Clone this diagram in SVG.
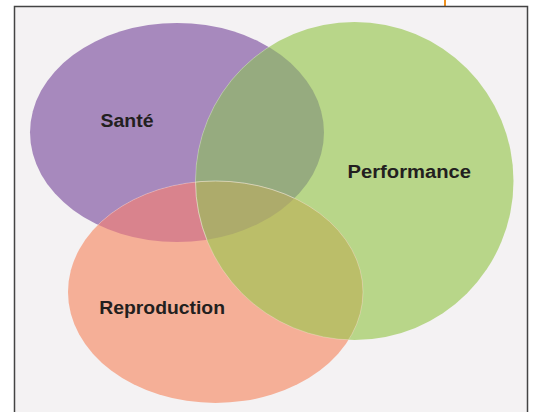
<svg xmlns="http://www.w3.org/2000/svg" width="534" height="412" viewBox="0 0 534 412">
  <style>
    .lbl { font-family: "Liberation Sans", Arial, sans-serif; font-size: 17.5px; font-weight: bold; fill: #231f20; }
    .edge { stroke: #ffffff; stroke-opacity: 0.35; stroke-width: 0.8; }
  </style>
  <defs>
    <clipPath id="cPurple"><ellipse cx="177" cy="132.5" rx="147" ry="109.5"/></clipPath>
    <clipPath id="cGreen"><circle cx="354.5" cy="181" r="159"/></clipPath>
    <clipPath id="cSalmon"><ellipse cx="215.5" cy="292" rx="147.5" ry="111"/></clipPath>
  </defs>
  <rect x="0" y="0" width="534" height="412" fill="#ffffff"/>
  <line x1="445" y1="0" x2="445" y2="7" stroke="#f0901c" stroke-width="2"/>
  <rect x="14.5" y="6.5" width="513" height="410" fill="#f4f2f3" stroke="#444444" stroke-width="1.5"/>

  <g id="connectors"></g>

  <g id="node-sante">
    <ellipse cx="177" cy="132.5" rx="147" ry="109.5" fill="#a789bd"/>
    <text class="lbl" x="100.5" y="127.3" textLength="53" lengthAdjust="spacingAndGlyphs">Santé</text>
  </g>
  <g id="node-performance">
    <circle cx="354.5" cy="181" r="159" fill="#b8d689"/>
    <text class="lbl" x="347.5" y="178.3" textLength="123.5" lengthAdjust="spacingAndGlyphs">Performance</text>
  </g>
  <g id="node-reproduction">
    <ellipse cx="215.5" cy="292" rx="147.5" ry="111" fill="#f5af97"/>
    <text class="lbl" x="99.3" y="314.3" textLength="125.7" lengthAdjust="spacingAndGlyphs">Reproduction</text>
  </g>

  <g id="overlaps">
    <circle cx="354.5" cy="181" r="159" fill="#96ab7f" clip-path="url(#cPurple)"/>
    <ellipse cx="215.5" cy="292" rx="147.5" ry="111" fill="#d9838d" clip-path="url(#cPurple)"/>
    <ellipse cx="215.5" cy="292" rx="147.5" ry="111" fill="#bbbe69" clip-path="url(#cGreen)"/>
    <g clip-path="url(#cPurple)">
      <ellipse cx="215.5" cy="292" rx="147.5" ry="111" fill="#adab6b" clip-path="url(#cGreen)"/>
    </g>
    <circle cx="354.5" cy="181" r="159" fill="none" class="edge" clip-path="url(#cPurple)"/>
    <circle cx="354.5" cy="181" r="159" fill="none" class="edge" clip-path="url(#cSalmon)"/>
    <ellipse cx="215.5" cy="292" rx="147.5" ry="111" fill="none" class="edge" clip-path="url(#cGreen)"/>
    <ellipse cx="215.5" cy="292" rx="147.5" ry="111" fill="none" class="edge" clip-path="url(#cPurple)"/>
  </g>
</svg>
